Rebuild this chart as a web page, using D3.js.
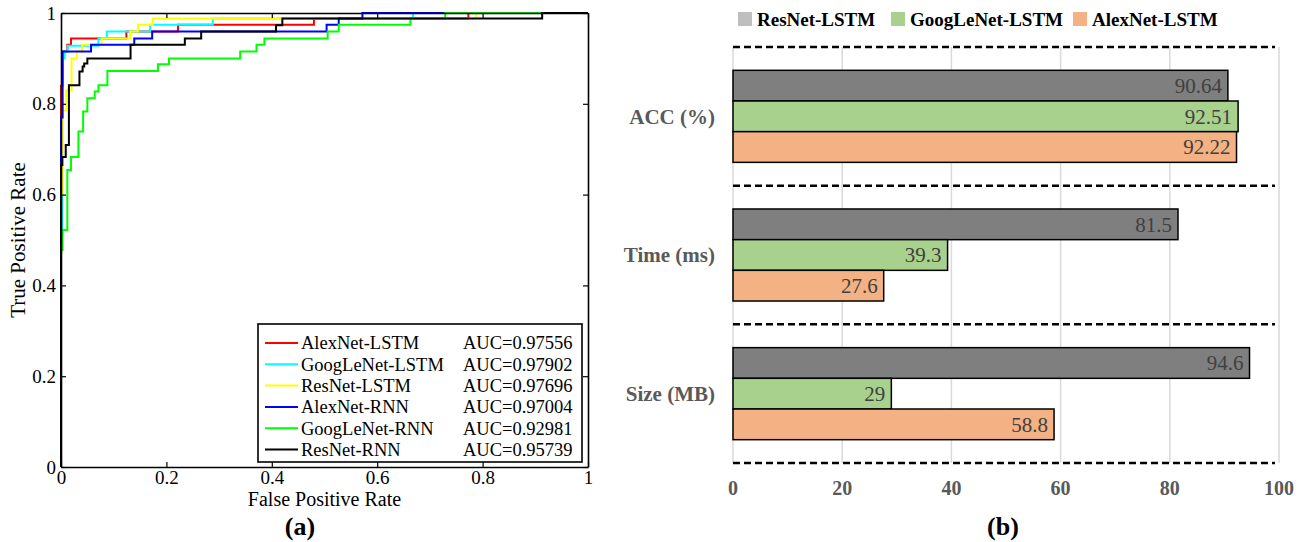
<!DOCTYPE html>
<html>
<head>
<meta charset="utf-8">
<script src="https://cdn.jsdelivr.net/npm/d3@7"></script>
<style>
body { margin: 0; background: #fff; }
svg { font-family: "Liberation Serif", "Times New Roman", serif; }
</style>
</head>
<body>
<div id="container"></div>
<script>
// ---- panel (a): ROC curves, each point = [fpr, tpr] at the top of a step
var rocNames = ["AlexNet-LSTM", "GoogLeNet-LSTM", "ResNet-LSTM", "AlexNet-RNN", "GoogLeNet-RNN", "ResNet-RNN"];
var rocAuc = ["0.97556", "0.97902", "0.97696", "0.97004", "0.92981", "0.95739"];
var rocColors = ["#ff0000", "#00ffff", "#ffff00", "#0000ff", "#00ff00", "#000000"];

var alexLstm = [[0,0],[0,0.84],[0.003,0.915],[0.012,0.93],[0.019,0.944],[0.124,0.959],[0.222,0.974],[0.48,0.988],[0.773,1],[1,1]];
var googLstm = [[0,0],[0,0.51],[0.0025,0.90],[0.007,0.915],[0.0127,0.928],[0.071,0.944],[0.087,0.959],[0.169,0.974],[0.288,0.988],[0.668,1],[1,1]];
var resLstm = [[0,0],[0,0.6],[0.002,0.785],[0.01,0.83],[0.02,0.90],[0.03,0.915],[0.04,0.93],[0.077,0.944],[0.131,0.959],[0.146,0.974],[0.174,0.988],[0.788,1],[1,1]];
var alexRnn = [[0,0],[0,0.77],[0.003,0.915],[0.057,0.93],[0.139,0.944],[0.173,0.959],[0.504,0.974],[0.527,0.988],[0.572,1],[1,1]];
var googRnn = [[0,0],[0,0.478],[0.003,0.522],[0.012,0.654],[0.019,0.683],[0.033,0.739],[0.042,0.783],[0.05,0.812],[0.064,0.827],[0.071,0.841],[0.088,0.872],[0.184,0.887],[0.205,0.9],[0.34,0.915],[0.371,0.93],[0.386,0.944],[0.506,0.959],[0.527,0.974],[0.663,0.988],[0.729,1],[1,1]];
var resRnn = [[0,0],[0,0.665],[0.0025,0.683],[0.009,0.709],[0.015,0.841],[0.035,0.871],[0.041,0.882],[0.044,0.889],[0.05,0.9],[0.132,0.93],[0.235,0.944],[0.266,0.959],[0.408,0.973],[0.42,0.988],[0.913,1],[1,1]];
var rocTicks = [0, 0.2, 0.4, 0.6, 0.8, 1];

// ---- panel (b): bar chart
var metrics = ["ACC (%)", "Time (ms)", "Size (MB)"];
var models = ["ResNet-LSTM", "GoogLeNet-LSTM", "AlexNet-LSTM"];
var resnetVals = [90.64, 81.5, 94.6];
var googleVals = [92.51, 39.3, 29];
var alexVals = [92.22, 27.6, 58.8];
var barTicks = [0, 20, 40, 60, 80, 100];
var barColors = ["#7f7f7f", "#a9d18e", "#f4b183"];
var legendColors = ["#bfbfbf", "#a9d18e", "#f4b183"];

var svg = d3.select("#container").append("svg")
	.attr("width", 1309)
	.attr("height", 542);

// ================= (a) =================
var x = d3.scaleLinear().domain([0, 1]).range([61, 588]);
var y = d3.scaleLinear().domain([0, 1]).range([467, 13]);

var roc = svg.append("g").attr("id", "roc");

var line = d3.line()
	.curve(d3.curveStepAfter)
	.x(function(d) { return x(d[0]); })
	.y(function(d) { return y(d[1]); });

var curves = [alexLstm, googLstm, resLstm, alexRnn, googRnn, resRnn];
curves.forEach(function(c, i) {
	roc.append("path")
		.attr("d", line(c))
		.attr("fill", "none")
		.attr("stroke", rocColors[i])
		.attr("stroke-width", 2);
});

function styleAxis(g) {
	g.selectAll(".domain").attr("stroke", "#000").attr("stroke-width", 1.6);
	g.selectAll(".tick line").attr("stroke", "#000").attr("stroke-width", 1.2);
	g.selectAll("text").attr("font-family", "Liberation Serif").attr("font-size", 19).attr("fill", "#000");
}

roc.append("g")
	.attr("transform", "translate(0," + y(0) + ")")
	.call(d3.axisBottom(x).tickValues(rocTicks).tickFormat(function(d) { return d; }).tickSize(-5).tickSizeOuter(0).tickPadding(3))
	.call(styleAxis);
roc.append("g")
	.attr("transform", "translate(" + x(0) + ",0)")
	.call(d3.axisLeft(y).tickValues(rocTicks).tickFormat(function(d) { return d; }).tickSize(-5).tickSizeOuter(0).tickPadding(5))
	.call(styleAxis);
roc.append("g")
	.attr("transform", "translate(0," + y(1) + ")")
	.call(d3.axisTop(x).tickValues(rocTicks).tickFormat("").tickSize(-5).tickSizeOuter(0))
	.call(styleAxis);
roc.append("g")
	.attr("transform", "translate(" + x(1) + ",0)")
	.call(d3.axisRight(y).tickValues(rocTicks).tickFormat("").tickSize(-5).tickSizeOuter(0))
	.call(styleAxis);

roc.append("text")
	.attr("x", (x(0) + x(1)) / 2)
	.attr("y", 506)
	.attr("text-anchor", "middle")
	.attr("font-size", 20)
	.text("False Positive Rate");

roc.append("text")
	.attr("transform", "translate(25," + (y(0) + y(1)) / 2 + ") rotate(-90)")
	.attr("text-anchor", "middle")
	.attr("font-size", 21)
	.text("True Positive Rate");

roc.append("text")
	.attr("x", 300)
	.attr("y", 535)
	.attr("text-anchor", "middle")
	.attr("font-size", 26)
	.attr("font-weight", "bold")
	.text("(a)");

// legend
var leg = roc.append("g").attr("transform", "translate(258,324)");
leg.append("rect")
	.attr("width", 324)
	.attr("height", 138)
	.attr("fill", "#fff")
	.attr("stroke", "#000")
	.attr("stroke-width", 1.6);
rocNames.forEach(function(n, i) {
	var ry = 19 + i * 21.3;
	leg.append("line")
		.attr("x1", 7).attr("x2", 40)
		.attr("y1", ry).attr("y2", ry)
		.attr("stroke", rocColors[i])
		.attr("stroke-width", 2);
	leg.append("text")
		.attr("x", 43).attr("y", ry)
		.attr("dy", "0.35em")
		.attr("font-size", 18.5)
		.text(n);
	leg.append("text")
		.attr("x", 205).attr("y", ry)
		.attr("dy", "0.35em")
		.attr("font-size", 18.5)
		.text("AUC=" + rocAuc[i]);
});

// ================= (b) =================
var bx = d3.scaleLinear().domain([0, 100]).range([733, 1279]);
var by = d3.scaleBand().domain(metrics).range([47, 463]);
var inner = d3.scaleBand().domain(models).range([0, by.bandwidth()]).paddingOuter(0.76);

var bar = svg.append("g").attr("id", "bars");

bar.selectAll(".grid").data(barTicks).enter()
	.append("line")
	.attr("class", "grid")
	.attr("x1", function(d) { return bx(d); })
	.attr("x2", function(d) { return bx(d); })
	.attr("y1", 47).attr("y2", 463)
	.attr("stroke", "#d9d9d9")
	.attr("stroke-width", 1.5);

var seriesVals = [resnetVals, googleVals, alexVals];
metrics.forEach(function(m, mi) {
	var g = bar.append("g").attr("transform", "translate(0," + by(m) + ")");
	models.forEach(function(md, si) {
		var v = seriesVals[si][mi];
		g.append("rect")
			.attr("x", bx(0))
			.attr("y", inner(md))
			.attr("width", bx(v) - bx(0))
			.attr("height", inner.bandwidth())
			.attr("fill", barColors[si])
			.attr("stroke", "#000")
			.attr("stroke-width", 1.5);
		g.append("text")
			.attr("x", bx(v) - 6)
			.attr("y", inner(md) + inner.bandwidth() / 2)
			.attr("dy", "0.35em")
			.attr("text-anchor", "end")
			.attr("font-size", 21)
			.attr("fill", "#404040")
			.text(v);
	});
	bar.append("text")
		.attr("x", 715)
		.attr("y", by(m) + by.bandwidth() / 2)
		.attr("dy", "0.35em")
		.attr("text-anchor", "end")
		.attr("font-size", 21)
		.attr("font-weight", "bold")
		.attr("fill", "#595959")
		.text(m);
});

// dashed separators
d3.range(metrics.length + 1).forEach(function(i) {
	var yy = by.range()[0] + i * by.step();
	bar.append("line")
		.attr("x1", bx(0)).attr("x2", 1275)
		.attr("y1", yy).attr("y2", yy)
		.attr("stroke", "#000")
		.attr("stroke-width", 2.5)
		.attr("stroke-dasharray", "7,4");
});

bar.selectAll(".xlab").data(barTicks).enter()
	.append("text")
	.attr("class", "xlab")
	.attr("x", function(d) { return bx(d); })
	.attr("y", 488)
	.attr("dy", "0.35em")
	.attr("text-anchor", "middle")
	.attr("font-size", 20)
	.attr("font-weight", "bold")
	.attr("fill", "#595959")
	.text(function(d) { return d; });

bar.append("text")
	.attr("x", 1003)
	.attr("y", 535)
	.attr("text-anchor", "middle")
	.attr("font-size", 26)
	.attr("font-weight", "bold")
	.text("(b)");

// top legend
var lx = [738, 891, 1073];
models.forEach(function(md, i) {
	bar.append("rect")
		.attr("x", lx[i]).attr("y", 12)
		.attr("width", 14).attr("height", 14)
		.attr("fill", legendColors[i]);
	bar.append("text")
		.attr("x", lx[i] + 19).attr("y", 19)
		.attr("dy", "0.35em")
		.attr("font-size", 19)
		.attr("font-weight", "bold")
		.text(md);
});
</script>
</body>
</html>
